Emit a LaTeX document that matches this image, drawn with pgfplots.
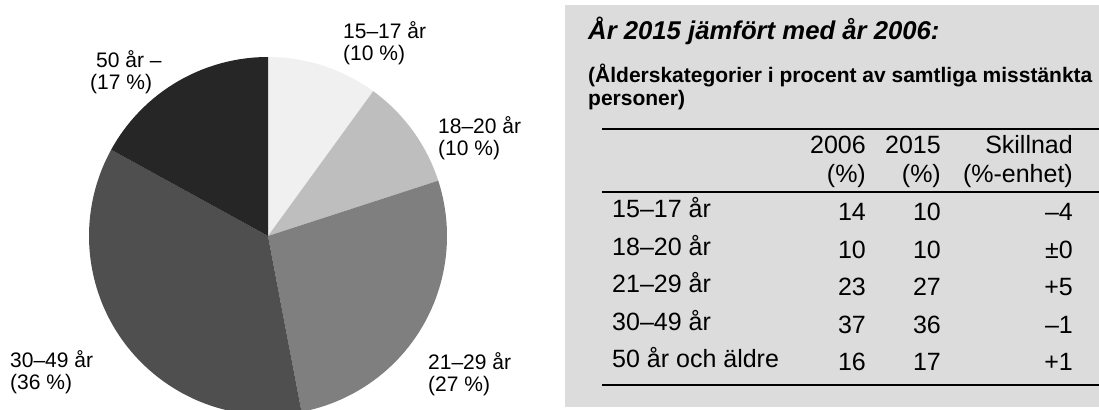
\documentclass[border=0pt]{standalone}
\usepackage{pgfplots}
\pgfplotsset{compat=1.18}
\usepackage{fontspec}
\setmainfont{Liberation Sans}
\definecolor{cA}{HTML}{F0F0F0}
\definecolor{cB}{HTML}{BEBEBE}
\definecolor{cC}{HTML}{7F7F7F}
\definecolor{cD}{HTML}{4F4F4F}
\definecolor{cE}{HTML}{262626}
\definecolor{panel}{HTML}{DCDCDC}
% slice: start cumulative %, end cumulative %, colour
\newcommand{\slice}[3]{%
  \fill[#3] (axis cs:0,0) -- (axis cs:{sin(3.6*#1)},{cos(3.6*#1)})
    arc[start angle={90-3.6*#1}, end angle={90-3.6*#2}, radius=179bp] -- cycle;}
\newcommand{\lab}{\fontsize{21bp}{24bp}\selectfont}
\newcommand{\tab}{\fontsize{25bp}{28bp}\selectfont}
\begin{document}
\begin{tikzpicture}[x=1bp,y=1bp]
\useasboundingbox (0,0) rectangle (1099,409);
\clip (0,0) rectangle (1099,409);
% ---- pie (shares 2015: 10, 10, 27, 36, 17) ----
\begin{axis}[at={(268bp,173bp)}, anchor=center, scale only axis,
  width=358bp, height=358bp, xmin=-1, xmax=1, ymin=-1, ymax=1,
  hide axis, clip=false]
  \slice{0}{10}{cA}
  \slice{10}{20}{cB}
  \slice{20}{47}{cC}
  \slice{47}{83}{cD}
  \slice{83}{100}{cE}
\end{axis}
% pie labels
\node[anchor=base west, inner sep=0] at (343,371) {\lab 15–17 år};
\node[anchor=base west, inner sep=0] at (343,349) {\lab (10 \%)};
\node[anchor=base west, inner sep=0] at (438,276) {\lab 18–20 år};
\node[anchor=base west, inner sep=0] at (438,254) {\lab (10 \%)};
\node[anchor=base west, inner sep=0] at (428,40) {\lab 21–29 år};
\node[anchor=base west, inner sep=0] at (428,18) {\lab (27 \%)};
\node[anchor=base west, inner sep=0] at (10,42) {\lab 30–49 år};
\node[anchor=base west, inner sep=0] at (10,20) {\lab (36 \%)};
\node[anchor=base west, inner sep=0] at (96,342) {\lab 50 år –};
\node[anchor=base west, inner sep=0] at (90,320) {\lab (17 \%)};
% ---- right panel ----
\fill[panel] (565,404) rectangle (1099,2);
\node[anchor=base west, inner sep=0] at (588,370) {\fontsize{25.7bp}{28bp}\selectfont\bfseries\itshape År 2015 jämfört med år 2006:};
\node[anchor=base west, inner sep=0] at (588,327) {\fontsize{21bp}{23bp}\selectfont\bfseries (Ålderskategorier i procent av samtliga misstänkta};
\node[anchor=base west, inner sep=0] at (588,304) {\fontsize{21bp}{23bp}\selectfont\bfseries personer)};
\draw[line width=1.3bp] (602,280) -- (1099,280);
\draw[line width=1.3bp] (602,217) -- (1099,217);
\draw[line width=1.3bp] (602,24) -- (1099,24);
% header
\node[anchor=base east, inner sep=0] at (866,256) {\tab 2006};
\node[anchor=base east, inner sep=0] at (941,256) {\tab 2015};
\node[anchor=base east, inner sep=0] at (1073,256) {\tab Skillnad};
\node[anchor=base east, inner sep=0] at (866,227) {\tab (\%)};
\node[anchor=base east, inner sep=0] at (941,227) {\tab (\%)};
\node[anchor=base east, inner sep=0] at (1073,227) {\tab (\%-enhet)};
% rows
\foreach \yb/\lbl/\a/\b/\d in {192/15–17 år/14/10/–4, 154/18–20 år/10/10/±0, 117/21–29 år/23/27/+5, 79/30–49 år/37/36/–1, 42/50 år och äldre/16/17/+1}{
  \node[anchor=base west, inner sep=0] at (612,\yb) {\tab \lbl};
  \node[anchor=base east, inner sep=0] at (866,\yb-3) {\tab \a};
  \node[anchor=base east, inner sep=0] at (941,\yb-3) {\tab \b};
  \node[anchor=base east, inner sep=0] at (1073,\yb-3) {\tab \d};
}
\end{tikzpicture}
\end{document}
